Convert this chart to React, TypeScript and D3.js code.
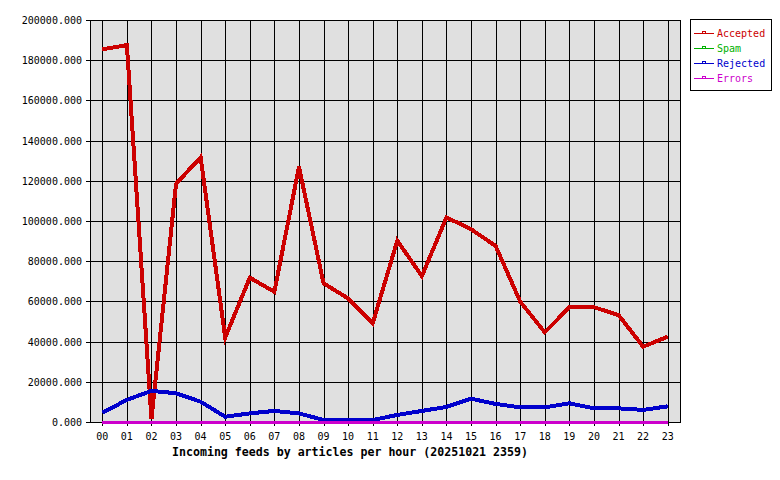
import React from "react";
import * as d3 from "d3";

const hours = ["00","01","02","03","04","05","06","07","08","09","10","11","12","13","14","15","16","17","18","19","20","21","22","23"];
const accepted = [185400, 187500, 1500, 118500, 131700, 42000, 71800, 64800, 127000, 69000, 61500, 49100, 90200, 72600, 101800, 95900, 87600, 59900, 44600, 57100, 57100, 53200, 37500, 42400];
const spam = [0,0,0,0,0,0,0,0,0,0,0,0,0,0,0,0,0,0,0,0,0,0,0,0];
const rejected = [4600, 11000, 15500, 14300, 10100, 2600, 4300, 5500, 4300, 1000, 1000, 1000, 3500, 5500, 7500, 11600, 9000, 7300, 7300, 9300, 6800, 6800, 6000, 7800];
const errors = [0,0,0,0,0,0,0,0,0,0,0,0,0,0,0,0,0,0,0,0,0,0,0,0];
const yTicks = [0, 20000, 40000, 60000, 80000, 100000, 120000, 140000, 160000, 180000, 200000];
const seriesNames = ["Accepted", "Spam", "Rejected", "Errors"];
const seriesColors = ["#cc0000", "#00b000", "#0000cc", "#cc00cc"];
const title = "Incoming feeds by articles per hour (20251021 2359)";

export default function App() {
  const W = 780, H = 480;
  const L = 90, R = 680, T = 20, B = 422;
  const x = d3.scaleBand<string>().domain(hours).range([L, R]);
  const xc = (h: string) => (x(h) as number) + x.bandwidth() / 2;
  const y = d3.scaleLinear().domain([0, 200000]).range([B, T]);
  const fmt = d3.format(".3f");
  const line = d3.line<number>().x((_, i) => xc(hours[i])).y((d) => y(d));
  const data = [accepted, spam, rejected, errors];
  const widths = [4, 3, 4, 3];
  const mono = "'DejaVu Sans Mono', 'Liberation Mono', monospace";

  return (
    <svg width={W} height={H} style={{ position: "absolute", left: 0, top: 0, background: "#fff" }}>
      <rect x={0} y={0} width={W} height={H} fill="#fff" />
      <rect x={L} y={T} width={R - L} height={B - T} fill="#e0e0e0" />
      {yTicks.map((t) => (
        <g key={"y" + t}>
          <line x1={L - 4} x2={R} y1={Math.round(y(t)) + 0.5} y2={Math.round(y(t)) + 0.5} stroke="#000" strokeWidth={1} />
          <text x={82} y={Math.round(y(t)) + 4} textAnchor="end" fontFamily={mono} fontSize={10} fill="#000">{fmt(t)}</text>
        </g>
      ))}
      {hours.map((h) => (
        <g key={"x" + h}>
          <line x1={Math.round(xc(h)) + 0.5} x2={Math.round(xc(h)) + 0.5} y1={T} y2={B + 4} stroke="#000" strokeWidth={1} />
          <text x={xc(h)} y={440} textAnchor="middle" fontFamily={mono} fontSize={10} fill="#000">{h}</text>
        </g>
      ))}
      <rect x={L + 0.5} y={T + 0.5} width={R - L} height={B - T} fill="none" stroke="#000" strokeWidth={1} />
      {data.map((d, i) => (
        <path key={"s" + i} d={line(d) as string} fill="none" stroke={seriesColors[i]} strokeWidth={widths[i]} strokeLinejoin="miter" shapeRendering="crispEdges" />
      ))}
      <text x={172} y={456} fontFamily={mono} fontWeight="bold" fontSize={11.6} fill="#000">{title}</text>
      <rect x={690.5} y={19.5} width={81} height={71} fill="#fff" stroke="#000" strokeWidth={1} />
      {seriesNames.map((n, i) => {
        const yy = 33.5 + i * 15;
        return (
          <g key={"l" + n}>
            <line x1={694} x2={714} y1={yy} y2={yy} stroke={seriesColors[i]} strokeWidth={1} />
            <rect x={702.5} y={yy - 2} width={3} height={2} fill="#fff" stroke={seriesColors[i]} strokeWidth={1} />
            <text x={717} y={yy + 3.5} fontFamily={mono} fontSize={10} fill={seriesColors[i]}>{n}</text>
          </g>
        );
      })}
    </svg>
  );
}
